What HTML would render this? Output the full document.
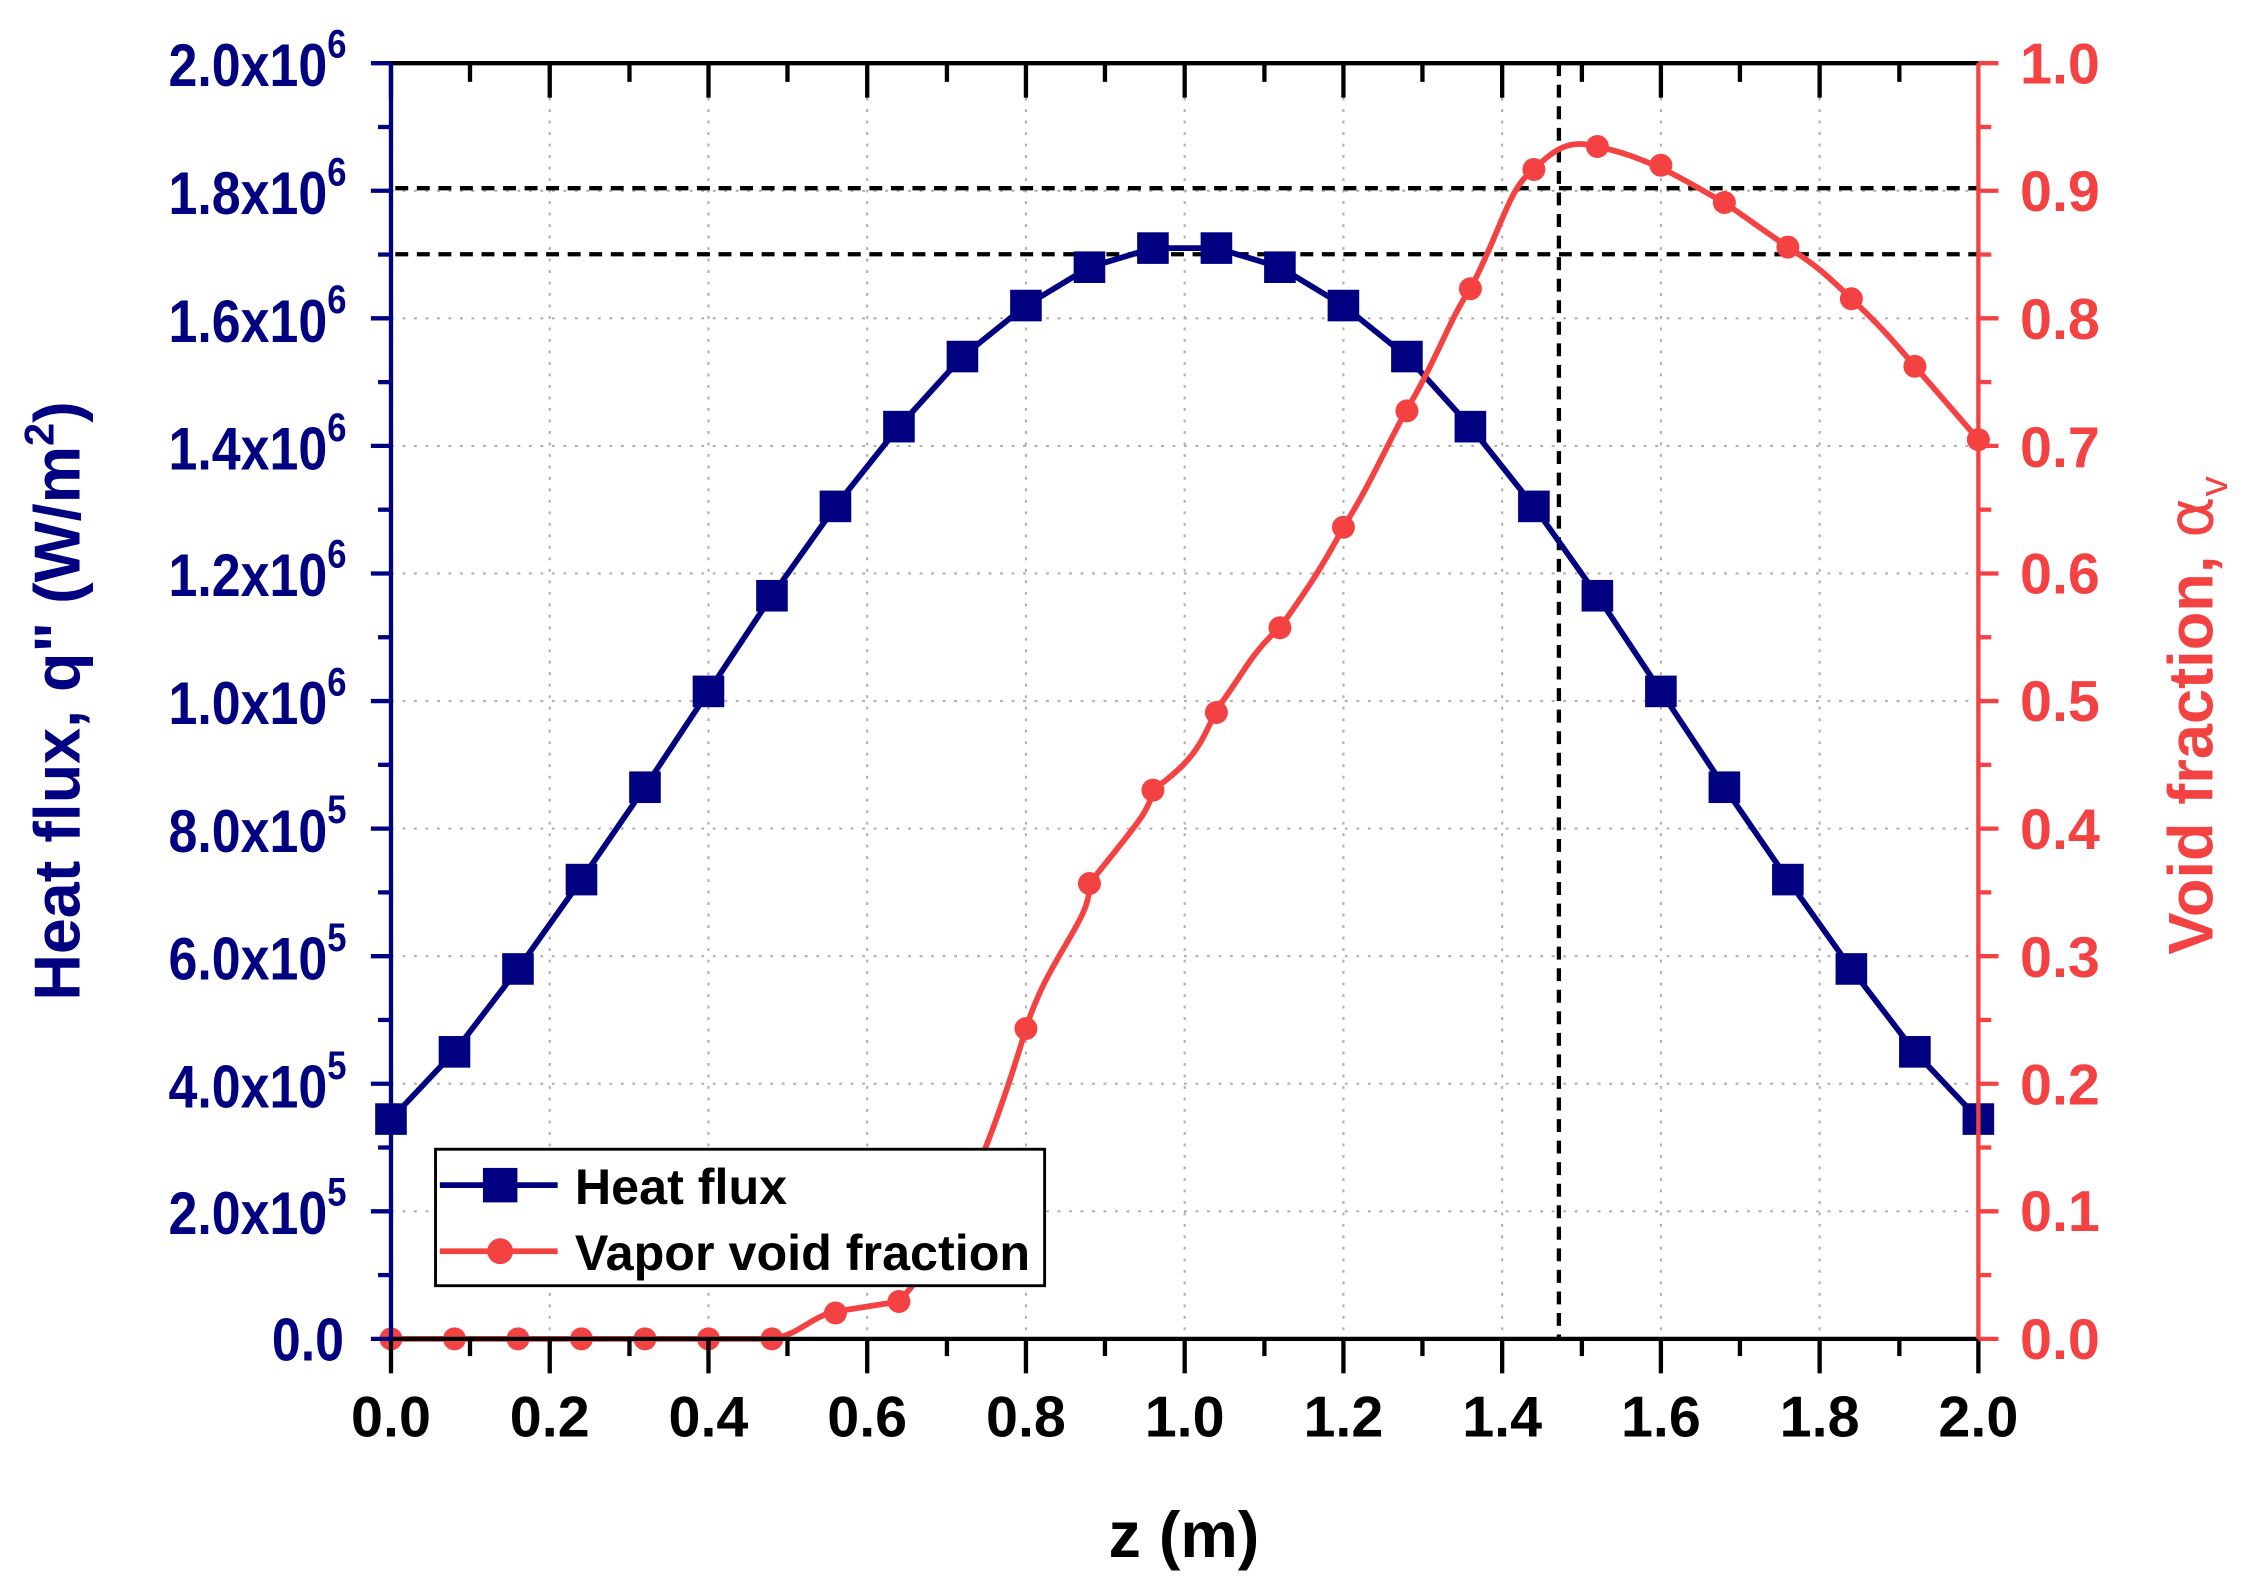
<!DOCTYPE html>
<html><head><meta charset="utf-8"><style>
html,body{margin:0;padding:0;background:#fff}
svg{display:block}
text{font-family:"Liberation Sans",Arial,sans-serif;font-weight:bold}
</style></head><body>
<svg width="2253" height="1596" viewBox="0 0 1568 1111" xmlns="http://www.w3.org/2000/svg">
<rect width="1568" height="1111" fill="#fff"/>
<g id="grid" stroke="#b0b0b0" stroke-width="1.5" stroke-dasharray="2,6">
<line x1="382.5" y1="44" x2="382.5" y2="932"/><line x1="493" y1="44" x2="493" y2="932"/><line x1="603.5" y1="44" x2="603.5" y2="932"/><line x1="714" y1="44" x2="714" y2="932"/><line x1="824.5" y1="44" x2="824.5" y2="932"/><line x1="935" y1="44" x2="935" y2="932"/><line x1="1045.5" y1="44" x2="1045.5" y2="932"/><line x1="1156" y1="44" x2="1156" y2="932"/><line x1="1266.5" y1="44" x2="1266.5" y2="932"/>
<line x1="272" y1="132.8" x2="1377" y2="132.8"/><line x1="272" y1="221.6" x2="1377" y2="221.6"/><line x1="272" y1="310.4" x2="1377" y2="310.4"/><line x1="272" y1="399.2" x2="1377" y2="399.2"/><line x1="272" y1="488" x2="1377" y2="488"/><line x1="272" y1="576.8" x2="1377" y2="576.8"/><line x1="272" y1="665.6" x2="1377" y2="665.6"/><line x1="272" y1="754.4" x2="1377" y2="754.4"/><line x1="272" y1="843.2" x2="1377" y2="843.2"/>
</g>
<g stroke="#000" stroke-width="3" stroke-dasharray="9,6">
<line x1="275" y1="131" x2="1377" y2="131"/>
<line x1="275" y1="177" x2="1377" y2="177"/>
<line x1="1085" y1="44" x2="1085" y2="932"/>
</g>
<polyline fill="none" stroke="#000080" stroke-width="4" points="272,779 316.2,732.2 360.4,674.5 404.6,612.3 448.8,548 493,481.3 537.2,414.7 581.4,352.5 625.6,297 669.8,248.2 714,212.7 758.2,186 802.4,172.7 846.6,172.7 890.8,186 935,212.7 979.2,248.2 1023.4,297 1067.6,352.5 1111.8,414.7 1156,481.3 1200.2,548 1244.4,612.3 1288.6,674.5 1332.8,732.2 1377,779"/>
<g fill="#000080">
<rect x="261" y="768" width="22" height="22"/><rect x="305.2" y="721.2" width="22" height="22"/><rect x="349.4" y="663.5" width="22" height="22"/><rect x="393.6" y="601.3" width="22" height="22"/><rect x="437.8" y="537" width="22" height="22"/><rect x="482" y="470.3" width="22" height="22"/><rect x="526.2" y="403.7" width="22" height="22"/><rect x="570.4" y="341.5" width="22" height="22"/><rect x="614.6" y="286" width="22" height="22"/><rect x="658.8" y="237.2" width="22" height="22"/><rect x="703" y="201.7" width="22" height="22"/><rect x="747.2" y="175" width="22" height="22"/><rect x="791.4" y="161.7" width="22" height="22"/><rect x="835.6" y="161.7" width="22" height="22"/><rect x="879.8" y="175" width="22" height="22"/><rect x="924" y="201.7" width="22" height="22"/><rect x="968.2" y="237.2" width="22" height="22"/><rect x="1012.4" y="286" width="22" height="22"/><rect x="1056.6" y="341.5" width="22" height="22"/><rect x="1100.8" y="403.7" width="22" height="22"/><rect x="1145" y="470.3" width="22" height="22"/><rect x="1189.2" y="537" width="22" height="22"/><rect x="1233.4" y="601.3" width="22" height="22"/><rect x="1277.6" y="663.5" width="22" height="22"/><rect x="1321.8" y="721.2" width="22" height="22"/><rect x="1366" y="768" width="22" height="22"/>
</g>
<path fill="none" stroke="#f44242" stroke-width="4" d="M272,932 L537,932 C555,930 565,916 581.4,913 L625.6,906 C650,880 680,830 714,716 C730,665 760,640 758.2,615 C790,575 800,565 802.4,550 C830,530 835,520 846.6,494 C865,470 870,455 890.8,437 C910,410 920,395 935,367 C955,335 965,310 979.2,285 C1000,250 1010,220 1023.4,201 C1045,160 1050,130 1067.6,118 C1085,100 1095,98 1111.8,102 C1130,106 1140,110 1156,117 C1175,126 1185,133 1200.2,141 C1220,155 1230,162 1244.4,172 C1265,185 1275,195 1288.6,208 C1310,228 1320,240 1332.8,255 C1350,275 1365,292 1377,306"/>
<g fill="#f44242">
<circle cx="272" cy="932" r="8"/><circle cx="316.2" cy="932" r="8"/><circle cx="360.4" cy="932" r="8"/><circle cx="404.6" cy="932" r="8"/><circle cx="448.8" cy="932" r="8"/><circle cx="493" cy="932" r="8"/><circle cx="537.2" cy="932" r="8"/><circle cx="581.4" cy="914" r="8"/><circle cx="625.6" cy="906" r="8"/><circle cx="714" cy="716" r="8"/><circle cx="758.2" cy="615" r="8"/><circle cx="802.4" cy="550" r="8"/><circle cx="846.6" cy="496" r="8"/><circle cx="890.8" cy="437" r="8"/><circle cx="935" cy="367" r="8"/><circle cx="979.2" cy="286" r="8"/><circle cx="1023.4" cy="201" r="8"/><circle cx="1067.6" cy="118" r="8"/><circle cx="1111.8" cy="102" r="8"/><circle cx="1156" cy="115" r="8"/><circle cx="1200.2" cy="141" r="8"/><circle cx="1244.4" cy="172" r="8"/><circle cx="1288.6" cy="208" r="8"/><circle cx="1332.8" cy="255" r="8"/><circle cx="1377" cy="306" r="8"/>
</g>
<line x1="272" y1="44" x2="1377" y2="44" stroke="#000" stroke-width="3"/>
<line x1="272" y1="932" x2="1377" y2="932" stroke="#000" stroke-width="3"/>
<g stroke="#000" stroke-width="3">
<line x1="272" y1="44" x2="272" y2="68"/><line x1="327" y1="44" x2="327" y2="57"/><line x1="382.5" y1="44" x2="382.5" y2="68"/><line x1="438" y1="44" x2="438" y2="57"/><line x1="493" y1="44" x2="493" y2="68"/><line x1="548" y1="44" x2="548" y2="57"/><line x1="603.5" y1="44" x2="603.5" y2="68"/><line x1="659" y1="44" x2="659" y2="57"/><line x1="714" y1="44" x2="714" y2="68"/><line x1="769" y1="44" x2="769" y2="57"/><line x1="824.5" y1="44" x2="824.5" y2="68"/><line x1="880" y1="44" x2="880" y2="57"/><line x1="935" y1="44" x2="935" y2="68"/><line x1="990" y1="44" x2="990" y2="57"/><line x1="1045.5" y1="44" x2="1045.5" y2="68"/><line x1="1101" y1="44" x2="1101" y2="57"/><line x1="1156" y1="44" x2="1156" y2="68"/><line x1="1211" y1="44" x2="1211" y2="57"/><line x1="1266.5" y1="44" x2="1266.5" y2="68"/><line x1="1322" y1="44" x2="1322" y2="57"/>
<line x1="272" y1="932" x2="272" y2="956"/><line x1="327" y1="932" x2="327" y2="944"/><line x1="382.5" y1="932" x2="382.5" y2="956"/><line x1="438" y1="932" x2="438" y2="944"/><line x1="493" y1="932" x2="493" y2="956"/><line x1="548" y1="932" x2="548" y2="944"/><line x1="603.5" y1="932" x2="603.5" y2="956"/><line x1="659" y1="932" x2="659" y2="944"/><line x1="714" y1="932" x2="714" y2="956"/><line x1="769" y1="932" x2="769" y2="944"/><line x1="824.5" y1="932" x2="824.5" y2="956"/><line x1="880" y1="932" x2="880" y2="944"/><line x1="935" y1="932" x2="935" y2="956"/><line x1="990" y1="932" x2="990" y2="944"/><line x1="1045.5" y1="932" x2="1045.5" y2="956"/><line x1="1101" y1="932" x2="1101" y2="944"/><line x1="1156" y1="932" x2="1156" y2="956"/><line x1="1211" y1="932" x2="1211" y2="944"/><line x1="1266.5" y1="932" x2="1266.5" y2="956"/><line x1="1322" y1="932" x2="1322" y2="944"/><line x1="1377" y1="932" x2="1377" y2="956"/>
</g>
<g stroke="#000080" stroke-width="3">
<line x1="272" y1="44" x2="272" y2="932"/>
<line x1="258" y1="44" x2="272" y2="44"/><line x1="263" y1="88.4" x2="272" y2="88.4"/><line x1="258" y1="132.8" x2="272" y2="132.8"/><line x1="263" y1="177.2" x2="272" y2="177.2"/><line x1="258" y1="221.6" x2="272" y2="221.6"/><line x1="263" y1="266" x2="272" y2="266"/><line x1="258" y1="310.4" x2="272" y2="310.4"/><line x1="263" y1="354.8" x2="272" y2="354.8"/><line x1="258" y1="399.2" x2="272" y2="399.2"/><line x1="263" y1="443.6" x2="272" y2="443.6"/><line x1="258" y1="488" x2="272" y2="488"/><line x1="263" y1="532.4" x2="272" y2="532.4"/><line x1="258" y1="576.8" x2="272" y2="576.8"/><line x1="263" y1="621.2" x2="272" y2="621.2"/><line x1="258" y1="665.6" x2="272" y2="665.6"/><line x1="263" y1="710" x2="272" y2="710"/><line x1="258" y1="754.4" x2="272" y2="754.4"/><line x1="263" y1="798.8" x2="272" y2="798.8"/><line x1="258" y1="843.2" x2="272" y2="843.2"/><line x1="263" y1="887.6" x2="272" y2="887.6"/><line x1="258" y1="932" x2="272" y2="932"/>
</g>
<g stroke="#f44242" stroke-width="3">
<line x1="1377" y1="44" x2="1377" y2="932"/>
<line x1="1377" y1="44" x2="1391" y2="44"/><line x1="1377" y1="88.4" x2="1386" y2="88.4"/><line x1="1377" y1="132.8" x2="1391" y2="132.8"/><line x1="1377" y1="177.2" x2="1386" y2="177.2"/><line x1="1377" y1="221.6" x2="1391" y2="221.6"/><line x1="1377" y1="266" x2="1386" y2="266"/><line x1="1377" y1="310.4" x2="1391" y2="310.4"/><line x1="1377" y1="354.8" x2="1386" y2="354.8"/><line x1="1377" y1="399.2" x2="1391" y2="399.2"/><line x1="1377" y1="443.6" x2="1386" y2="443.6"/><line x1="1377" y1="488" x2="1391" y2="488"/><line x1="1377" y1="532.4" x2="1386" y2="532.4"/><line x1="1377" y1="576.8" x2="1391" y2="576.8"/><line x1="1377" y1="621.2" x2="1386" y2="621.2"/><line x1="1377" y1="665.6" x2="1391" y2="665.6"/><line x1="1377" y1="710" x2="1386" y2="710"/><line x1="1377" y1="754.4" x2="1391" y2="754.4"/><line x1="1377" y1="798.8" x2="1386" y2="798.8"/><line x1="1377" y1="843.2" x2="1391" y2="843.2"/><line x1="1377" y1="887.6" x2="1386" y2="887.6"/><line x1="1377" y1="932" x2="1391" y2="932"/>
</g>
<g fill="#000080" font-size="42" text-anchor="end" transform="translate(241,0) scale(0.86,1)">
<text x="0" y="60">2.0x10<tspan font-size="28" dy="-20">6</tspan></text>
<text x="0" y="149">1.8x10<tspan font-size="28" dy="-20">6</tspan></text>
<text x="0" y="238">1.6x10<tspan font-size="28" dy="-20">6</tspan></text>
<text x="0" y="327">1.4x10<tspan font-size="28" dy="-20">6</tspan></text>
<text x="0" y="415">1.2x10<tspan font-size="28" dy="-20">6</tspan></text>
<text x="0" y="504">1.0x10<tspan font-size="28" dy="-20">6</tspan></text>
<text x="0" y="593">8.0x10<tspan font-size="28" dy="-20">5</tspan></text>
<text x="0" y="682">6.0x10<tspan font-size="28" dy="-20">5</tspan></text>
<text x="0" y="771">4.0x10<tspan font-size="28" dy="-20">5</tspan></text>
<text x="0" y="859">2.0x10<tspan font-size="28" dy="-20">5</tspan></text>
<text x="-2" y="947">0.0</text>
</g>
<g fill="#f44242" font-size="40">
<text x="1406" y="58">1.0</text><text x="1406" y="147">0.9</text><text x="1406" y="236">0.8</text><text x="1406" y="325">0.7</text><text x="1406" y="413">0.6</text><text x="1406" y="502">0.5</text><text x="1406" y="591">0.4</text><text x="1406" y="680">0.3</text><text x="1406" y="769">0.2</text><text x="1406" y="857">0.1</text><text x="1406" y="946">0.0</text>
</g>
<g fill="#000" font-size="40" text-anchor="middle">
<text x="272" y="1000">0.0</text><text x="382.5" y="1000">0.2</text><text x="493" y="1000">0.4</text><text x="603.5" y="1000">0.6</text><text x="714" y="1000">0.8</text><text x="824.5" y="1000">1.0</text><text x="935" y="1000">1.2</text><text x="1045.5" y="1000">1.4</text><text x="1156" y="1000">1.6</text><text x="1266.5" y="1000">1.8</text><text x="1377" y="1000">2.0</text>
</g>
<text x="824" y="1084" font-size="45" text-anchor="middle" fill="#000">z (m)</text>
<text transform="translate(55,488) rotate(-90)" font-size="45" text-anchor="middle" fill="#000080">Heat flux, q" (W/m<tspan font-size="29" dy="-18">2</tspan><tspan dy="18">)</tspan></text>
<text transform="translate(1540,498) rotate(-90)" font-size="44" text-anchor="middle" fill="#f44242">Void fraction, <tspan font-weight="normal" font-family="DejaVu Sans">α</tspan><tspan font-size="28" dy="10" font-weight="normal">v</tspan></text>
<rect x="303" y="800" width="424" height="95" fill="#fff" stroke="#000" stroke-width="2"/>
<line x1="306" y1="825" x2="388" y2="825" stroke="#000080" stroke-width="4"/>
<rect x="336" y="813" width="24" height="24" fill="#000080"/>
<text x="400" y="838" font-size="35" fill="#000">Heat flux</text>
<line x1="306" y1="871" x2="388" y2="871" stroke="#f44242" stroke-width="4"/>
<circle cx="348" cy="871" r="9" fill="#f44242"/>
<text x="400" y="884" font-size="35" fill="#000">Vapor void fraction</text>
</svg>
</body></html>
